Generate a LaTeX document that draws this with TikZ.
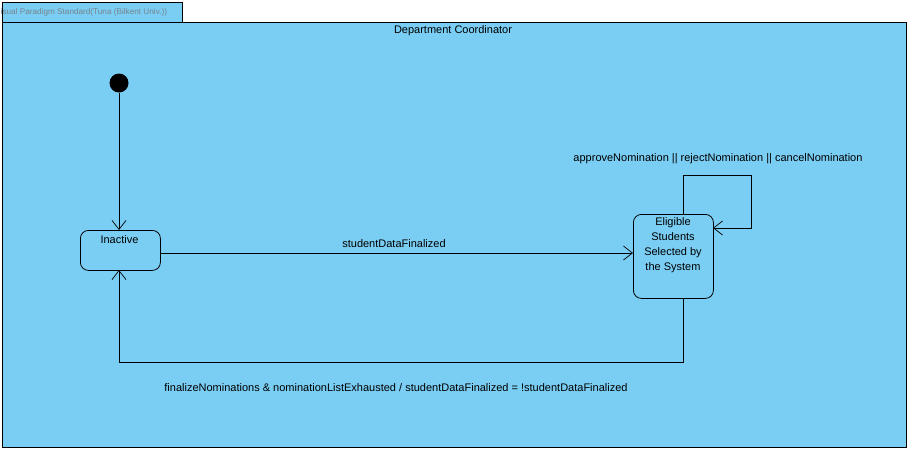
\documentclass[tikz,border=0pt]{standalone}
\usepackage{fontspec}
\setmainfont{Liberation Sans}
\usetikzlibrary{arrows.meta}
\definecolor{vpblue}{RGB}{122,206,244}
\definecolor{tabgray}{RGB}{120,130,140}
\begin{document}
\begin{tikzpicture}[x=1pt,y=-1pt,
  statebox/.style={draw=black,fill=vpblue,rounded corners=8pt,line width=0.8pt,anchor=north west,inner sep=0pt},
  lbl/.style={font=\fontsize{11}{13}\selectfont,inner sep=0pt},
  trans/.style={draw=black,line width=0.7pt,-{Straight Barb[length=9pt,width=14pt,line width=0.7pt]}}]
\useasboundingbox (0,0) rectangle (910,451);
\fill[white] (0,0) rectangle (910,451);
% tab and frame
\draw[fill=vpblue,line width=0.7pt] (2,2) rectangle (182,22);
\node[anchor=west,inner sep=0pt,text=tabgray,font=\fontsize{8.2}{9}\selectfont] (tab) at (0.5,12) {isual Paradigm Standard(Tuna (Bilkent Univ.))};
\draw[fill=vpblue,line width=0.8pt] (2,22) rectangle (906,447);
\node[lbl] (title) at (453,30.5) {Department Coordinator};
% initial
\fill[black] (119,83) circle (9.5);
\coordinate (init) at (119,92.5);
% states
\node[statebox,minimum width=80pt,minimum height=40pt] (inactive) at (80,230) {};
\node[lbl,anchor=center] at (119.5,239.5) {Inactive};
\node[statebox,minimum width=80pt,minimum height=84pt] (elig) at (633,214) {};
\node[lbl,align=center,anchor=north] at (673,217) {Eligible\\[2.2pt]Students\\[2.2pt]Selected by\\[2.2pt]the System};
% transitions
\draw[trans] (init) -- (119,230);
\draw[trans] (160,253) -- (633,253);
\node[lbl] at (394,243.5) {studentDataFinalized};
\draw[trans] (683,214) -- (683,175) -- (751,175) -- (751,228) -- (713,228);
\node[lbl] at (718,158.5) {approveNomination || rejectNomination || cancelNomination};
\draw[trans] (683,298) -- (683,362) -- (119,362) -- (119,270);
\node[lbl] at (396,387.5) {finalizeNominations \& nominationListExhausted / studentDataFinalized = !studentDataFinalized};
\end{tikzpicture}
\end{document}
